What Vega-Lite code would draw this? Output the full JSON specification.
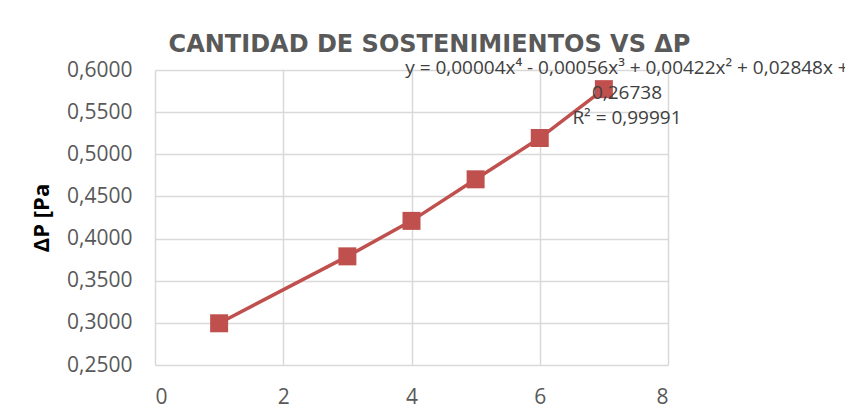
{
  "$schema": "https://vega.github.io/schema/vega-lite/v6.json",
  "autosize": "none",
  "width": 513,
  "height": 295,
  "padding": {"left": 155, "top": 70, "right": 177, "bottom": 48},
  "background": "white",
  "config": {
    "locale": {"number": {"decimal": ",", "thousands": ".", "grouping": [3], "currency": ["", " €"]}},
    "view": {"stroke": null},
    "axis": {
      "labelFont": "Open Sans",
      "labelColor": "#595959",
      "gridColor": "#d9d9d9",
      "gridWidth": 1.5,
      "domain": false,
      "ticks": false
    }
  },
  "title": {
    "text": "CANTIDAD DE SOSTENIMIENTOS VS ΔP",
    "font": "DejaVu Sans",
    "fontSize": 24,
    "fontWeight": "bold",
    "color": "#595959",
    "anchor": "middle",
    "dx": 18,
    "offset": 2
  },
  "layer": [
    {
      "data": {
        "values": [
          {"sostenimientos": 1, "dp": 0.2995},
          {"sostenimientos": 3, "dp": 0.3789},
          {"sostenimientos": 4, "dp": 0.4210},
          {"sostenimientos": 5, "dp": 0.4703},
          {"sostenimientos": 6, "dp": 0.5193},
          {"sostenimientos": 7, "dp": 0.5773}
        ]
      },
      "mark": {
        "type": "line",
        "color": "#C0504D",
        "strokeWidth": 3.5,
        "point": {"shape": "square", "size": 324, "color": "#C0504D", "filled": true, "opacity": 1}
      },
      "encoding": {
        "x": {
          "field": "sostenimientos",
          "type": "quantitative",
          "scale": {"domain": [0, 8], "nice": false, "zero": false},
          "axis": {"title": null, "values": [0, 2, 4, 6, 8], "format": "d", "labelFontSize": 21, "labelPadding": 21, "grid": true}
        },
        "y": {
          "field": "dp",
          "type": "quantitative",
          "scale": {"domain": [0.25, 0.6], "nice": false, "zero": false},
          "axis": {
            "title": "ΔP [Pa",
            "titleFont": "Open Sans",
            "titleFontSize": 22,
            "titleFontWeight": "bold",
            "titleColor": "#000000",
            "titlePadding": 13,
            "values": [0.25, 0.3, 0.35, 0.4, 0.45, 0.5, 0.55, 0.6],
            "format": ".4f",
            "labelFontSize": 21,
            "labelPadding": 23,
            "grid": true
          }
        }
      }
    },
    {
      "data": {"values": [{"label": "trendline"}]},
      "mark": {
        "type": "text",
        "text": ["y = 0,00004x⁴ - 0,00056x³ + 0,00422x² + 0,02848x +", "0,26738", "R² = 0,99991"],
        "font": "Open Sans",
        "fontSize": 19,
        "fontWeight": 400,
        "lineHeight": 25,
        "color": "#404040",
        "align": "center",
        "baseline": "middle"
      },
      "encoding": {
        "x": {"datum": 7.36},
        "y": {"datum": 0.6024}
      }
    }
  ]
}
